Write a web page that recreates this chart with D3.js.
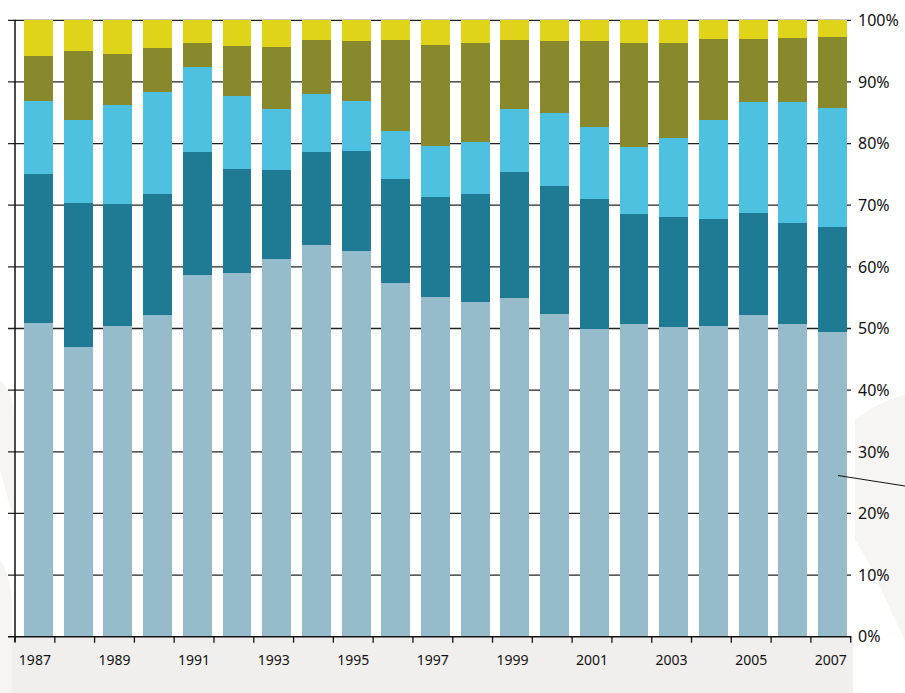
<!DOCTYPE html>
<html>
<head>
<meta charset="utf-8">
<script src="https://cdn.jsdelivr.net/npm/d3@7"></script>
<style>
  html, body { margin: 0; padding: 0; background: #fff; }
  svg { display: block; }
</style>
</head>
<body>
<div id="chart"></div>
<script>
// Years on the x axis
const years = d3.range(1987, 2008)
const yearLabels = years.filter(y => (y - 1987) % 2 === 0)
const pctTicks = d3.range(0, 101, 10)

// Shares per year (percent), bottom segment first
const seriesA = [50.9, 47.0, 50.4, 52.2, 58.7, 59.0, 61.3, 63.5, 62.6, 57.4, 55.1, 54.3, 54.9, 52.4, 49.9, 50.7, 50.2, 50.4, 52.2, 50.7, 49.4]
const seriesB = [24.2, 23.4, 19.8, 19.6, 19.9, 16.9, 14.4, 15.1, 16.2, 16.9, 16.2, 17.5, 20.5, 20.7, 21.1, 17.9, 17.9, 17.4, 16.5, 16.4, 17.1]
const seriesC = [11.8, 13.4, 16.1, 16.6, 13.8, 11.8, 9.9, 9.4, 8.1, 7.7, 8.3, 8.5, 10.2, 11.8, 11.7, 10.8, 12.8, 16.0, 18.1, 19.7, 19.3]
const seriesD = [7.3, 11.2, 8.2, 7.1, 3.9, 8.1, 10.0, 8.8, 9.7, 14.8, 16.4, 16.0, 11.2, 11.7, 13.9, 16.9, 15.4, 13.1, 10.1, 10.3, 11.5]
const seriesE = [5.8, 5.0, 5.5, 4.5, 3.7, 4.2, 4.4, 3.2, 3.4, 3.2, 4.0, 3.7, 3.2, 3.4, 3.4, 3.7, 3.7, 3.1, 3.1, 2.9, 2.7]

const keys = ['a', 'b', 'c', 'd', 'e']
const colors = ['#96bbca', '#1e7b93', '#4ec1e0', '#87892c', '#e0d41b']

const rows = years.map((year, i) => ({
  year,
  a: seriesA[i], b: seriesB[i], c: seriesC[i], d: seriesD[i], e: seriesE[i],
}))

const width = 905
const height = 693
const font = '"Noto Sans", "DejaVu Sans", sans-serif'

const svg = d3.select('#chart').append('svg')
  .attr('width', width)
  .attr('height', height)
  .style('font-family', font)

// faint background swooshes
const bg = svg.append('g').attr('fill', '#f6f5f3')
bg.append('path').attr('d', 'M855,420 C880,400 905,395 905,395 L905,640 C885,600 870,560 855,540 Z')
bg.append('path').attr('d', 'M0,380 C10,390 14,400 14,420 L14,520 C8,500 3,480 0,470 Z')
bg.append('path').attr('d', 'M0,560 C8,570 12,590 12,610 L12,693 L0,693 Z')

const y = d3.scaleLinear().domain([0, 100]).range([636.7, 20.3])

// bars sit in their own band scale; ticks use the full axis span
const x = d3.scaleBand().domain(years)
  .range([18.65, 852.35]).paddingInner(0.27).paddingOuter(0.135)
const xTick = d3.scaleBand().domain(years).range([15, 850.7])

// grey strip under the axis
svg.append('rect')
  .attr('x', 12).attr('y', y(0))
  .attr('width', 853 - 12).attr('height', height - y(0))
  .attr('fill', '#f0efed')

// gridlines
svg.append('g').selectAll('line')
  .data(pctTicks.filter(d => d > 0))
  .join('line')
  .attr('x1', 8).attr('x2', 851)
  .attr('y1', d => y(d)).attr('y2', d => y(d))
  .attr('stroke', '#222').attr('stroke-width', 1.3)

// stacked bars
const stacked = d3.stack().keys(keys)(rows)
svg.append('g').attr('shape-rendering', 'crispEdges')
  .selectAll('g')
  .data(stacked)
  .join('g')
  .attr('fill', (d, i) => colors[i])
  .selectAll('rect')
  .data(d => d)
  .join('rect')
  .attr('x', d => x(d.data.year))
  .attr('width', x.bandwidth())
  .attr('y', d => y(d[1]))
  .attr('height', d => y(d[0]) - y(d[1]))

// left axis line
svg.append('line')
  .attr('x1', 15).attr('x2', 15)
  .attr('y1', y(100) - 0.5).attr('y2', y(0) + 5)
  .attr('stroke', '#111').attr('stroke-width', 1.5)

// bottom axis line + ticks
svg.append('line')
  .attr('x1', 8).attr('x2', 851.5)
  .attr('y1', y(0)).attr('y2', y(0))
  .attr('stroke', '#111').attr('stroke-width', 1.5)

const tickXs = years.map(yr => xTick(yr)).concat([xTick.range()[1]])
svg.append('g').selectAll('line')
  .data(tickXs)
  .join('line')
  .attr('x1', d => d).attr('x2', d => d)
  .attr('y1', y(0)).attr('y2', y(0) + 6)
  .attr('stroke', '#111').attr('stroke-width', 1.3)

// year labels
svg.append('g').selectAll('text')
  .data(yearLabels)
  .join('text')
  .attr('x', d => xTick(d) + xTick.bandwidth() / 2)
  .attr('y', 665)
  .attr('text-anchor', 'middle')
  .attr('font-size', '14px')
  .attr('fill', '#111')
  .text(d => d)

// percent labels on the right
svg.append('g').selectAll('text')
  .data(pctTicks)
  .join('text')
  .attr('x', 858)
  .attr('y', d => y(d))
  .attr('dy', '0.36em')
  .attr('font-size', '16px')
  .attr('fill', '#111')
  .text(d => d + '%')

// callout line
svg.append('line')
  .attr('x1', 838).attr('y1', 475.5)
  .attr('x2', 905).attr('y2', 486)
  .attr('stroke', '#111').attr('stroke-width', 1)
</script>
</body>
</html>
